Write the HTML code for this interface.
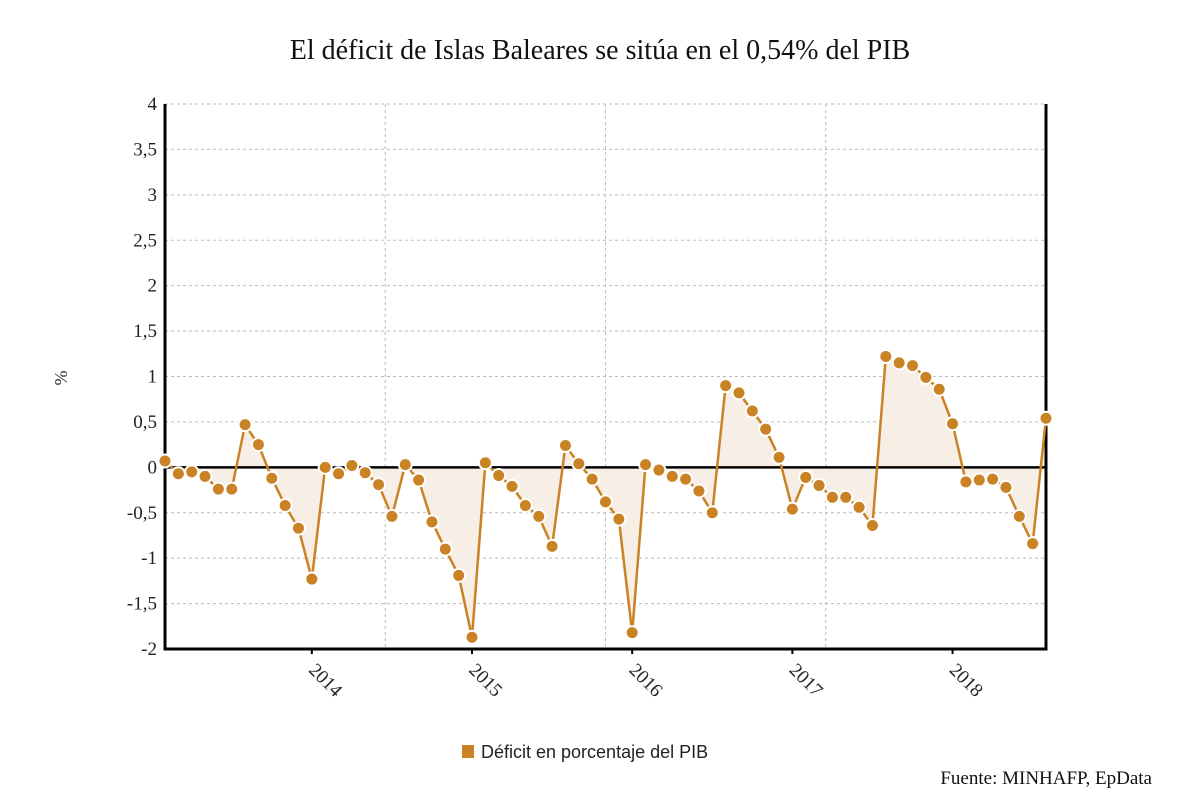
<!DOCTYPE html>
<html><head><meta charset="utf-8"><style>
body{margin:0;background:#fff;width:1200px;height:808px;overflow:hidden}
svg{display:block}
</style></head><body>
<svg id="chart" width="1200" height="808">
<text x="600" y="59" text-anchor="middle" font-family="Liberation Serif, serif" font-size="28" fill="#111">El déficit de Islas Baleares se sitúa en el 0,54% del PIB</text>
<text transform="translate(67,378) rotate(-90)" text-anchor="middle" font-family="Liberation Serif, serif" font-size="18" fill="#333">%</text>
<g id="grid"></g><g id="area"></g><g id="axes"></g><g id="marks"></g>
<rect x="462" y="745" width="12" height="13" fill="#c98325"/>
<text x="481" y="758" font-family="Liberation Sans, sans-serif" font-size="18" fill="#222">Déficit en porcentaje del PIB</text>
<text x="1152" y="784" text-anchor="end" font-family="Liberation Serif, serif" font-size="19" fill="#111">Fuente: MINHAFP, EpData</text>
</svg>
<script>
const values = [0.07,-0.07,-0.05,-0.1,-0.24,-0.24,0.47,0.25,-0.12,-0.42,-0.67,
-1.23,0,-0.07,0.02,-0.06,-0.19,-0.54,0.03,-0.14,-0.6,-0.9,-1.19,
-1.87,0.05,-0.09,-0.21,-0.42,-0.54,-0.87,0.24,0.04,-0.13,-0.38,-0.57,
-1.82,0.03,-0.03,-0.1,-0.13,-0.26,-0.5,0.9,0.82,0.62,0.42,0.11,
-0.46,-0.11,-0.2,-0.33,-0.33,-0.44,-0.64,1.22,1.15,1.12,0.99,0.86,
0.48,-0.16,-0.14,-0.13,-0.22,-0.54,-0.84,0.54];
const yTicks = [4,3.5,3,2.5,2,1.5,1,0.5,0,-0.5,-1,-1.5,-2];
const yearLabels = ["2014","2015","2016","2017","2018"];
const yearIndex = [11,23,35,47,59];
const sepIndex = [16.5,33,49.5];

const X0=165,X1=1046,Y0=104,Y1=649,ymin=-2,ymax=4;
const xs=i=>X0+(X1-X0)*i/(values.length-1);
const ys=v=>Y1-(v-ymin)/(ymax-ymin)*(Y1-Y0);
const NS="http://www.w3.org/2000/svg";
function mk(parent,tag,attrs){const e=document.createElementNS(NS,tag);for(const k in attrs)e.setAttribute(k,attrs[k]);document.getElementById(parent).appendChild(e);return e;}

yTicks.forEach(t=>{
  if(t!==0&&t!==ymin){const g=mk('grid','line',{x1:X0,x2:X1,y1:ys(t),y2:ys(t),stroke:'#bbb','stroke-dasharray':'3,3','stroke-width':1});
  
  }
  const l=mk('axes','text',{x:157,y:ys(t)+6,'text-anchor':'end','font-family':'Liberation Serif, serif','font-size':19,fill:'#222'});
  l.textContent=String(t).replace('.',',');
  
  
});
sepIndex.forEach(i=>{
  const g=mk('grid','line',{x1:xs(i),x2:xs(i),y1:Y0,y2:Y1,stroke:'#bbb','stroke-dasharray':'3,3'});
  
  
});
let d='M'+xs(0)+','+ys(0);
values.forEach((v,i)=>{d+=' L'+xs(i)+','+ys(v);});
d+=' L'+xs(values.length-1)+','+ys(0)+' Z';
const a=mk('area','path',{d:d,fill:'#f7efe6'});


const z=mk('axes','line',{x1:X0,x2:X1,y1:ys(0),y2:ys(0),stroke:'#000','stroke-width':2.5});


const ax=mk('axes','path',{d:`M${X0},${Y0} L${X0},${Y1} L${X1},${Y1} L${X1},${Y0}`,fill:'none',stroke:'#000','stroke-width':3});


yearIndex.forEach((idx,k)=>{
  const x=xs(idx);
  const t=mk('axes','line',{x1:x,x2:x,y1:Y1,y2:Y1+5,stroke:'#000','stroke-width':2});
  
  
  const l=mk('axes','text',{transform:`translate(${x-4},${Y1+22}) rotate(45)`,'font-family':'Liberation Serif, serif','font-size':19,fill:'#222'});
  l.textContent=yearLabels[k];
  
  
});
const line=mk('marks','polyline',{points:values.map((v,i)=>xs(i)+','+ys(v)).join(' '),fill:'none',stroke:'#c98325','stroke-width':2.5});


values.forEach((v,i)=>{
  const c=mk('marks','circle',{cx:xs(i),cy:ys(v),r:6.5,fill:'#c98325',stroke:'#fff','stroke-width':2});
  
  
});
</script>
</body></html>
